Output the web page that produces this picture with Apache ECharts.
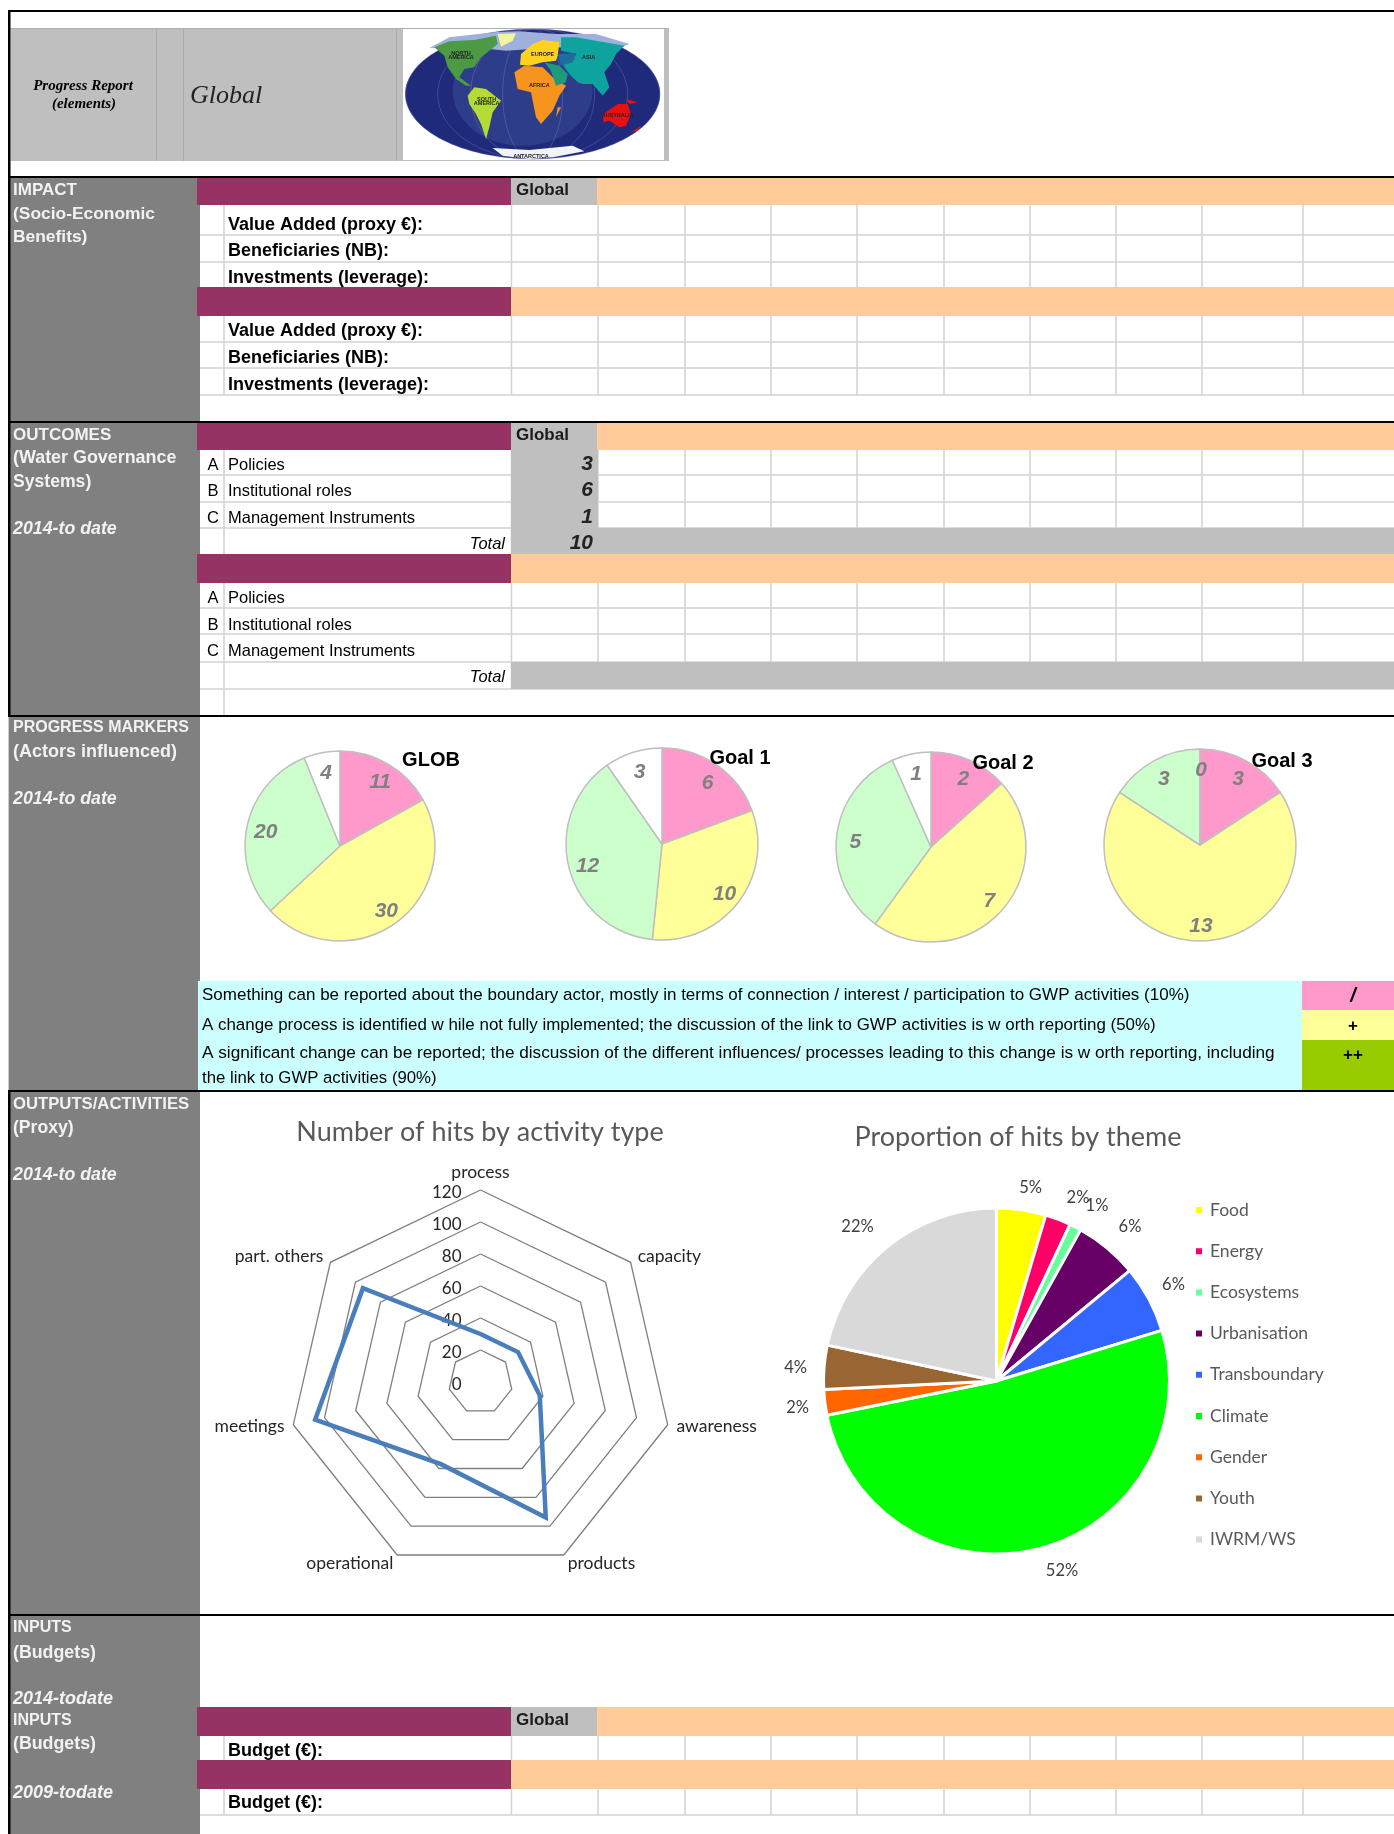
<!DOCTYPE html>
<html>
<head>
<meta charset="utf-8">
<style>html,body{margin:0;padding:0;background:#fff;overflow:hidden}#c{width:1394px;height:1834px}</style>
<script src="https://cdn.jsdelivr.net/npm/echarts@6/dist/echarts.min.js"></script>
</head>
<body>
<div id="c"></div>
<script>
// ---- chart data ----
const sliceLevels = ['Little influence', 'Change process', 'Significant change', 'No change'];
const sliceColors = ['#FF99CC', '#FFFF99', '#CCFFCC', '#FFFFFF'];
const pieTitles = ['GLOB', 'Goal 1', 'Goal 2', 'Goal 3'];
const pieGlob = [11, 30, 20, 4];
const pieGoal1 = [6, 10, 12, 3];
const pieGoal2 = [2, 7, 5, 1];
const pieGoal3 = [3, 13, 3, 0];

const activityTypes = ['process', 'capacity', 'awareness', 'products', 'operational', 'meetings', 'part. others'];
const activityHits = [30, 30, 38, 94, 57, 106, 94];
const radarMax = 120;

const themes = ['Food', 'Energy', 'Ecosystems', 'Urbanisation', 'Transboundary', 'Climate', 'Gender', 'Youth', 'IWRM/WS'];
const themeShares = [4.6, 2.4, 1.1, 5.9, 6.3, 51.6, 2.4, 4.1, 21.7];
const themeColors = ['#FFFF00', '#FF0066', '#66FF99', '#660066', '#3366FF', '#00FF00', '#FF6600', '#996633', '#D9D9D9'];

const outcomeRows = ['Policies', 'Institutional roles', 'Management Instruments'];
const outcomeLetters = ['A', 'B', 'C'];
const outcomeValues = [3, 6, 1];
const outcomeTotal = 10;
const impactRows = ['Value Added (proxy €):', 'Beneficiaries (NB):', 'Investments (leverage):'];
const legendTexts = [
  'Something can be reported about the boundary actor, mostly in terms of connection / interest / participation to GWP activities (10%)',
  'A change process is identified w hile not fully implemented; the discussion of the link to GWP activities is w orth reporting (50%)',
  'A significant change can be reported; the discussion of the different influences/ processes leading to this change is w orth reporting, including',
  'the link to GWP activities (90%)'
];

// label placement of the theme pie (hand-placed in the reference)
const themeLabelAnchors = [[1030.6, 1188], [1078, 1198], [1097, 1206], [1130, 1227], [1173.5, 1285], [1062, 1571], [797.6, 1408], [795.7, 1368], [857.5, 1227]];

// ---- page furniture helpers ----
const SANS = '"Liberation Sans", Arial, sans-serif';
const SERIF = '"Liberation Serif", serif';
const CAL = 'Lato, "Open Sans", sans-serif';
const PURPLE = '#963264', PEACH = '#FFCC99', GRAY = '#BFBFBF', SIDE = '#808080', LINE = '#D2D2D2';
const els = [];
function box(x0, y0, x1, y1, c, z) {
  els.push({type: 'rect', silent: true, z: z || 10, shape: {x: x0, y: y0, width: x1 - x0, height: y1 - y0}, style: {fill: c}});
}
function txt(x, y, s, o) {
  o = o || {};
  els.push({type: 'text', silent: true, z: o.z || 30, x: x, y: y, style: {
    text: s, fill: o.c || '#000', font: (o.st || '') + ' ' + (o.w || 'normal') + ' ' + (o.sz || 16.5) + 'px ' + (o.f || SANS),
    textAlign: o.a || 'left', textVerticalAlign: 'middle'
  }});
}
const COLS = [224, 511.5, 598, 685, 771, 857, 944, 1030, 1116, 1202, 1303];
function vlines(y0, y1, from) {
  COLS.forEach((x, i) => { if (i >= (from || 0)) box(x - 0.75, y0, x + 0.75, y1, LINE, 11); });
}
function hline(y, x0) { box(x0 || 200, y - 0.75, 1394, y + 0.75, LINE, 11); }
function band(y0, y1, global) {
  box(197, y0, 511, y1, PURPLE, 14);
  box(511, y0, 1394, y1, PEACH, 14);
  if (global) {
    box(511, y0, 597, y1, GRAY, 15);
    txt(516, (y0 + y1) / 2 - 1.5, 'Global', {w: 'bold', sz: 17, c: '#1a1a1a'});
  }
}
function side(y, s, sz, o) { txt(13, y + 1, s, Object.assign({w: 'bold', sz: sz || 17, c: '#F2F2F2'}, o || {})); }

// left column and black rules
box(8.6, 178, 200, 1834, SIDE, 5);
[[8, 10, 1394, 12], [8, 176, 1394, 178], [8, 421, 1394, 423], [8, 715, 1394, 717], [8, 1090, 1394, 1092], [8, 1614, 1394, 1616]]
  .forEach(r => box(r[0], r[1], r[2], r[3], '#000', 20));
box(8, 10, 10.5, 716, '#000', 20);
box(8, 1092, 10.5, 1834, '#000', 20);

// header banner
box(10.5, 28, 669, 161, GRAY, 6);
box(10.5, 28, 669, 29, '#B0B0B0', 7);
[156, 183, 396].forEach(x => box(x, 28, x + 1, 161, '#ADADAD', 7));
box(403, 29, 664, 160, '#FFFFFF', 7);
txt(83, 86, 'Progress Report', {st: 'italic', w: 'bold', sz: 15, f: SERIF, a: 'center'});
txt(84, 104, '(elements)', {st: 'italic', w: 'bold', sz: 15, f: SERIF, a: 'center'});
txt(190, 96.5, 'Global', {st: 'italic', sz: 26, f: SERIF, c: '#222'});

// decorative world picture of the banner
function mapX(z) { return 396 + z / 3; }
function mapY(z) { return 24 + z / 3; }
els.push({type: 'ellipse', silent: true, z: 8, shape: {cx: mapX(410), cy: mapY(210), rx: 127.5, ry: 65}, style: {fill: '#1F2A7A'}});
els.push({type: 'ellipse', silent: true, z: 8, shape: {cx: mapX(380), cy: mapY(200), rx: 70, ry: 55}, style: {fill: '#3A4C98', opacity: 0.55}});
[127, 95, 62, 30].forEach(r => els.push({type: 'ellipse', silent: true, z: 8, shape: {cx: mapX(410), cy: mapY(210), rx: r, ry: 65}, style: {fill: 'none', stroke: '#8C97C8', lineWidth: 0.5, opacity: 0.6}}));
function land(c, pts) {
  els.push({type: 'polygon', silent: true, z: 9, shape: {points: pts.map(p => [mapX(p[0]), mapY(p[1])])}, style: {fill: c}});
}
land('#9FB0DC', [[100,72],[160,40],[300,24],[370,22],[480,30],[600,30],[700,60],[650,80],[480,70],[330,80],[280,75]]);
land('#4C9A44', [[115,70],[160,52],[235,48],[300,35],[305,60],[280,80],[255,100],[235,130],[205,135],[190,160],[225,185],[210,185],[180,165],[155,130],[145,95]]);
land('#F4F49A', [[305,30],[360,28],[350,50],[315,68]]);
land('#B5DC36', [[215,215],[235,190],[270,195],[315,230],[290,265],[280,310],[270,345],[255,300],[240,270],[220,240]]);
land('#F7941E', [[355,145],[385,125],[440,130],[470,160],[510,185],[490,215],[470,260],[435,300],[420,280],[405,205],[365,195]]);
land('#F7941E', [[485,250],[495,250],[480,280]]);
land('#FFD21F', [[375,90],[410,60],[440,48],[490,55],[485,95],[480,110],[440,115],[400,125],[372,122]]);
land('#1E9A78', [[445,115],[490,125],[515,150],[510,175],[480,185],[465,140]]);
land('#0FA3A0', [[495,40],[540,40],[685,65],[660,90],[645,120],[625,145],[640,190],[620,215],[590,180],[560,180],[545,175],[520,150],[495,115],[530,115],[540,90],[495,80]]);
land('#1C6E9C', [[485,90],[540,88],[530,115],[495,125]]);
land('#E81010', [[622,270],[665,240],[695,240],[705,270],[690,305],[670,310],[640,290],[622,295]]);
land('#E81010', [[705,325],[735,305],[725,320]]);
land('#E81010', [[690,225],[725,235],[700,240]]);
land('#F2F4FA', [[290,372],[400,378],[530,365],[565,382],[470,400],[400,405],[320,395]]);
[['NORTH', 195, 88], ['AMERICA', 195, 100], ['EUROPE', 440, 90], ['ASIA', 578, 100], ['AFRICA', 430, 185],
 ['SOUTH', 272, 225], ['AMERICA', 272, 238], ['AUSTRALIA', 665, 275], ['ANTARCTICA', 405, 397]]
  .forEach(m => txt(mapX(m[1]), mapY(m[2]), m[0], {w: 'bold', sz: 5.5, a: 'center', c: '#222', z: 10}));

// IMPACT
side(189, 'IMPACT'); side(213, '(Socio-Economic', 17.4); side(236, 'Benefits)', 17.4);
vlines(205, 287); hline(235); hline(262);
vlines(316, 395); hline(342); hline(368); hline(395);
band(178, 205, true); band(287, 316, false);
[224, 250, 277].forEach((y, i) => txt(228, y + 1, impactRows[i], {w: 'bold', sz: 18}));
[330, 357, 384].forEach((y, i) => txt(228, y + 1, impactRows[i], {w: 'bold', sz: 18}));

// OUTCOMES
side(434, 'OUTCOMES'); side(457, '(Water Governance', 17.9); side(481, 'Systems)', 17.6);
side(528, '2014-to date', 17.8, {st: 'italic'});
vlines(450, 554); hline(475); hline(502); hline(528, 200);
vlines(583, 689); box(223.25, 689, 224.75, 715, LINE, 11); hline(608); hline(634); hline(662); hline(689, 200);
box(511, 450, 598, 554, GRAY, 13);
box(598, 528, 1394, 554, GRAY, 13);
box(511, 662, 1394, 689, GRAY, 13);
band(423, 450, true); band(554, 583, false);
[464, 490, 517].forEach((y, i) => {
  txt(213, y + 1, outcomeLetters[i], {a: 'center'});
  txt(228, y + 1, outcomeRows[i]);
  txt(593, y, String(outcomeValues[i]), {st: 'italic', w: 'bold', sz: 21, a: 'right', c: '#222'});
});
txt(505, 544.5, 'Total', {st: 'italic', a: 'right'});
txt(593, 543.5, String(outcomeTotal), {st: 'italic', w: 'bold', sz: 21, a: 'right', c: '#222'});
[597, 624, 650].forEach((y, i) => { txt(213, y + 1, outcomeLetters[i], {a: 'center'}); txt(228, y + 1, outcomeRows[i]); });
txt(505, 677.5, 'Total', {st: 'italic', a: 'right'});

// PROGRESS MARKERS
side(727, 'PROGRESS MARKERS', 16); side(751, '(Actors influenced)', 18); side(798, '2014-to date', 17.8, {st: 'italic'});
box(198, 981, 1302, 1090, '#CCFFFF', 12);
box(1302, 981, 1394, 1010, '#FF99CC', 12);
box(1302, 1010, 1394, 1040, '#FFFF99', 12);
box(1302, 1040, 1394, 1090, '#99CC00', 12);
const legendSizes = [17, 16.93, 17.2, 16.76];
[995, 1025, 1053.5, 1078].forEach((y, i) => txt(202, y, legendTexts[i], {sz: legendSizes[i]}));
txt(1353, 996, '/', {st: 'italic', w: 'bold', a: 'center', sz: 20});
txt(1353, 1026.5, '+', {w: 'bold', a: 'center', sz: 17});
txt(1353, 1055, '++', {w: 'bold', a: 'center', sz: 17});
const titlePos = [[431, 760.5], [740, 758.5], [1003, 763.5], [1282, 761]];
pieTitles.forEach((t, i) => txt(titlePos[i][0], titlePos[i][1], t, {w: 'bold', sz: 20, a: 'center', z: 40}));

// OUTPUTS
side(1103, 'OUTPUTS/ACTIVITIES', 16.7); side(1127, '(Proxy)', 17.6); side(1174, '2014-to date', 17.8, {st: 'italic'});
txt(480, 1132, 'Number of hits by activity type', {f: CAL, sz: 27, a: 'center', c: '#595959'});
txt(1018, 1137, 'Proportion of hits by theme', {f: CAL, sz: 27, a: 'center', c: '#595959'});

// INPUTS
side(1627, 'INPUTS', 16); side(1652, '(Budgets)', 17.8); side(1698, '2014-todate', 18, {st: 'italic'});
side(1720, 'INPUTS', 16); side(1743, '(Budgets)', 17.8); side(1792, '2009-todate', 18, {st: 'italic'});
vlines(1736, 1760); vlines(1789, 1815); hline(1815);
band(1707, 1736, true); band(1760, 1789, false);
txt(228, 1751, 'Budget (€):', {w: 'bold', sz: 18});
txt(228, 1803, 'Budget (€):', {w: 'bold', sz: 18});

// ---- series ----
function smallPie(values, center, R) {
  const data = values.map((v, i) => ({name: sliceLevels[i], value: v, itemStyle: {color: sliceColors[i]}}));
  return [{
    type: 'pie', center: center, radius: [0, R], startAngle: 90, clockwise: true, silent: true, z: 3,
    data: data, label: {show: false}, labelLine: {show: false},
    itemStyle: {borderColor: '#BFBFBF', borderWidth: 1.5}
  }, {
    type: 'pie', center: center, radius: [R * 0.56, R], startAngle: 90, clockwise: true, silent: true, z: 4,
    data: values.map((v, i) => ({name: sliceLevels[i], value: v})),
    itemStyle: {color: 'transparent'}, labelLine: {show: false},
    label: {show: true, position: 'inside', formatter: '{c}', color: '#808080', offset: [1, 3],
      fontFamily: SANS, fontWeight: 'bold', fontStyle: 'italic', fontSize: 21}
  }];
}
const series = [].concat(
  smallPie(pieGlob, [340, 846], 95),
  smallPie(pieGoal1, [662, 844], 96),
  smallPie(pieGoal2, [931, 847], 95),
  smallPie(pieGoal3, [1200, 845], 96)
);
// radar axes run counter-clockwise, so the reading order is mirrored after the first axis
const order = [0].concat(activityTypes.map((_, i) => activityTypes.length - 1 - i).slice(0, activityTypes.length - 1));
series.push({
  type: 'radar', z: 5, symbol: 'none', silent: true,
  lineStyle: {color: '#4A7EBB', width: 4.5, join: 'miter'},
  data: [{value: order.map(i => activityHits[i]), name: 'Hits'}]
});
series.push({
  type: 'pie', center: [996.5, 1381], radius: [0, 173], startAngle: 90, clockwise: true, silent: true, z: 3,
  avoidLabelOverlap: false,
  data: themes.map((t, i) => ({name: t, value: themeShares[i], itemStyle: {color: themeColors[i]}})),
  itemStyle: {borderColor: '#FFFFFF', borderWidth: 3},
  label: {show: true, position: 'outside', formatter: p => Math.round(p.value) + '%', color: '#404040',
    fontFamily: CAL, fontSize: 16.5},
  labelLine: {show: false, length: 12, length2: 0},
  labelLayout: p => ({
    x: themeLabelAnchors[p.dataIndex][0], y: themeLabelAnchors[p.dataIndex][1],
    align: 'center', verticalAlign: 'middle', hideOverlap: false
  })
});

const chart = echarts.init(document.getElementById('c'));
chart.setOption({
  animation: false,
  backgroundColor: '#FFFFFF',
  graphic: {elements: els},
  legend: {
    orient: 'vertical', left: 1194, top: 1201, padding: 0, icon: 'rect', itemWidth: 8, itemHeight: 8, itemGap: 23.2,
    data: themes, selectedMode: false,
    textStyle: {color: '#595959', fontFamily: CAL, fontSize: 17.5, padding: [0, 0, 0, 2]}
  },
  radar: {
    center: [480.5, 1382], radius: 192, startAngle: 90, shape: 'polygon', splitNumber: 6, nameGap: 9,
    indicator: order.map((i, k) => ({
      name: activityTypes[i], max: radarMax, min: 0,
      axisLabel: k === 0 ? {show: true, margin: 19, color: '#262626', fontFamily: CAL, fontSize: 17,
        verticalAlign: 'top', lineHeight: 6, formatter: v => String(v)} : {show: false}
    })),
    axisName: {color: '#262626', fontFamily: CAL, fontSize: 17.5},
    axisLine: {show: false}, axisTick: {show: false},
    splitArea: {show: false},
    splitLine: {lineStyle: {color: '#7F7F7F', width: 1.3}}
  },
  series: series
});
</script>
</body>
</html>
